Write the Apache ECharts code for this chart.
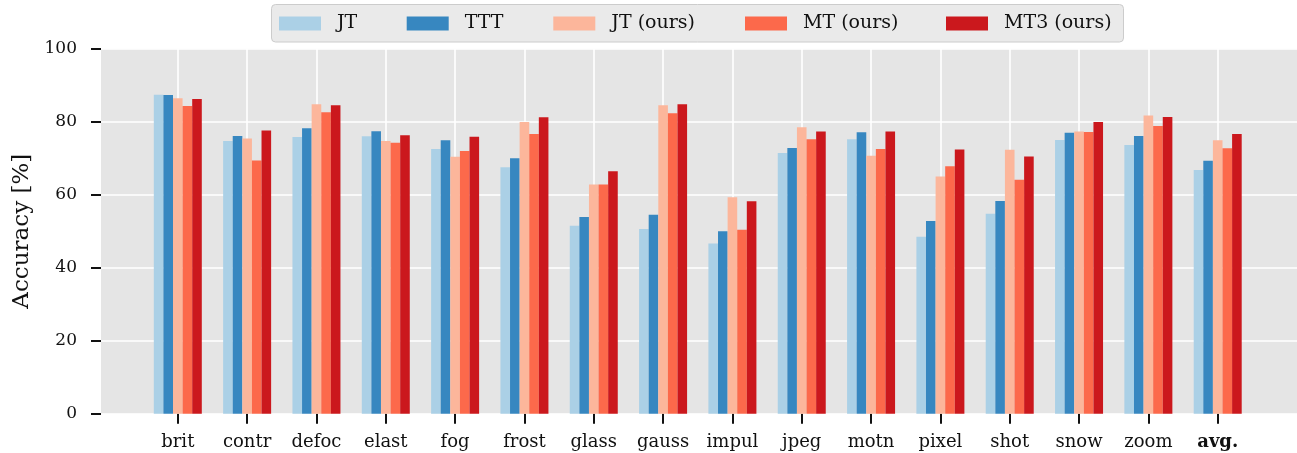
<!DOCTYPE html>
<html>
<head>
<meta charset="utf-8">
<script src="https://cdn.jsdelivr.net/npm/echarts@6/dist/echarts.min.js"></script>
<style>
html,body{margin:0;padding:0;background:#fff;}
#chart{width:1297px;height:453px;}
</style>
</head>
<body>
<div id="chart"></div>
<script>
const categories = ['brit','contr','defoc','elast','fog','frost','glass','gauss','impul','jpeg','motn','pixel','shot','snow','zoom','avg.'];
const seriesNames = ['JT','TTT','JT (ours)','MT (ours)','MT3 (ours)'];
const jt      = [87.4, 74.7, 75.8, 76.0, 72.5, 67.5, 51.5, 50.6, 46.6, 71.4, 75.2, 48.5, 54.8, 75.0, 73.6, 66.8];
const ttt     = [87.3, 76.1, 78.2, 77.4, 74.9, 70.0, 53.9, 54.5, 50.0, 72.8, 77.1, 52.8, 58.3, 77.0, 76.1, 69.3];
const jtOurs  = [86.4, 75.4, 84.8, 74.7, 70.4, 79.9, 62.8, 84.5, 59.3, 78.5, 70.7, 65.0, 72.3, 77.3, 81.7, 74.9];
const mtOurs  = [84.3, 69.4, 82.6, 74.2, 72.0, 76.6, 62.8, 82.3, 50.4, 75.2, 72.5, 67.8, 64.1, 77.2, 78.8, 72.7];
const mt3Ours = [86.2, 77.6, 84.5, 76.3, 75.9, 81.2, 66.4, 84.8, 58.2, 77.3, 77.3, 72.4, 70.5, 79.9, 81.3, 76.6];
const yTicks = [0, 20, 40, 60, 80, 100];

const colors = ['#abd0e6', '#3787c0', '#fcb69b', '#fc694b', '#cb181d'];
const allData = [jt, ttt, jtOurs, mtOurs, mt3Ours];
const FONT = 'DejaVu Serif';

const chart = echarts.init(document.getElementById('chart'), null, {renderer: 'canvas'});

const legendLefts = [279, 406.7, 553.3, 745, 946];

const option = {
  animation: false,
  backgroundColor: '#ffffff',
  textStyle: {fontFamily: FONT},
  graphic: [{
    type: 'rect',
    left: 271, top: 4,
    z: 1,
    shape: {width: 852, height: 37.5, r: 4},
    style: {fill: '#eaeaea', stroke: '#cccccc', lineWidth: 1}
  }],
  legend: seriesNames.map((n, i) => ({
    data: [n],
    left: legendLefts[i],
    top: 14,
    padding: 0,
    itemWidth: 42,
    itemHeight: 14,
    icon: 'rect',
    selectedMode: false,
    z: 5,
    textStyle: {fontFamily: FONT, fontSize: 19, color: '#111', padding: [0, 0, 0, 11]}
  })),
  grid: [
    {left: 101, right: 0, top: 48.7, bottom: 39.3, show: true, backgroundColor: '#e5e5e5', borderWidth: 0, containLabel: false},
    {left: 177.8, right: 79.3, top: 48.7, bottom: 39.3, show: false, containLabel: false}
  ],
  xAxis: [
    {gridIndex: 0, type: 'value', min: 0, max: 1, show: false},
    {
      gridIndex: 1, type: 'category', data: categories, boundaryGap: false,
      offset: 2,
      axisLine: {show: false},
      axisTick: {show: true, interval: 0, length: 10, lineStyle: {color: '#111', width: 2}},
      splitLine: {show: true, interval: 0, lineStyle: {color: '#ffffff', width: 1.6}},
      axisLabel: {
        interval: 0,
        margin: 18, color: '#111', fontFamily: FONT, fontSize: 18,
        formatter: v => v === 'avg.' ? '{b|' + v + '}' : v,
        rich: {b: {fontWeight: 'bold', fontFamily: FONT, fontSize: 18, color: '#111'}}
      }
    }
  ],
  yAxis: [
    {
      gridIndex: 0, type: 'value', min: 0, max: 100, interval: 20,
      offset: 2,
      name: 'Accuracy [%]', nameLocation: 'middle', nameGap: 63, nameRotate: 90,
      nameTextStyle: {fontFamily: FONT, fontSize: 23, color: '#111'},
      axisLine: {show: false},
      axisTick: {show: true, length: 10, lineStyle: {color: '#111', width: 2}},
      splitLine: {show: true, lineStyle: {color: '#ffffff', width: 1.6}},
      axisLabel: {margin: 22, color: '#111', fontFamily: FONT, fontSize: 17,
        formatter: v => yTicks.includes(v) ? String(v) : ''}
    },
    {gridIndex: 1, type: 'value', min: 0, max: 100, show: false}
  ],
  series: allData.map((d, i) => ({
    name: seriesNames[i],
    type: 'bar',
    xAxisIndex: 1, yAxisIndex: 1,
    data: d,
    barWidth: 9.6,
    barGap: '0%',
    clip: false,
    itemStyle: {color: colors[i]},
    emphasis: {disabled: true}
  }))
};
chart.setOption(option);
</script>
</body>
</html>
